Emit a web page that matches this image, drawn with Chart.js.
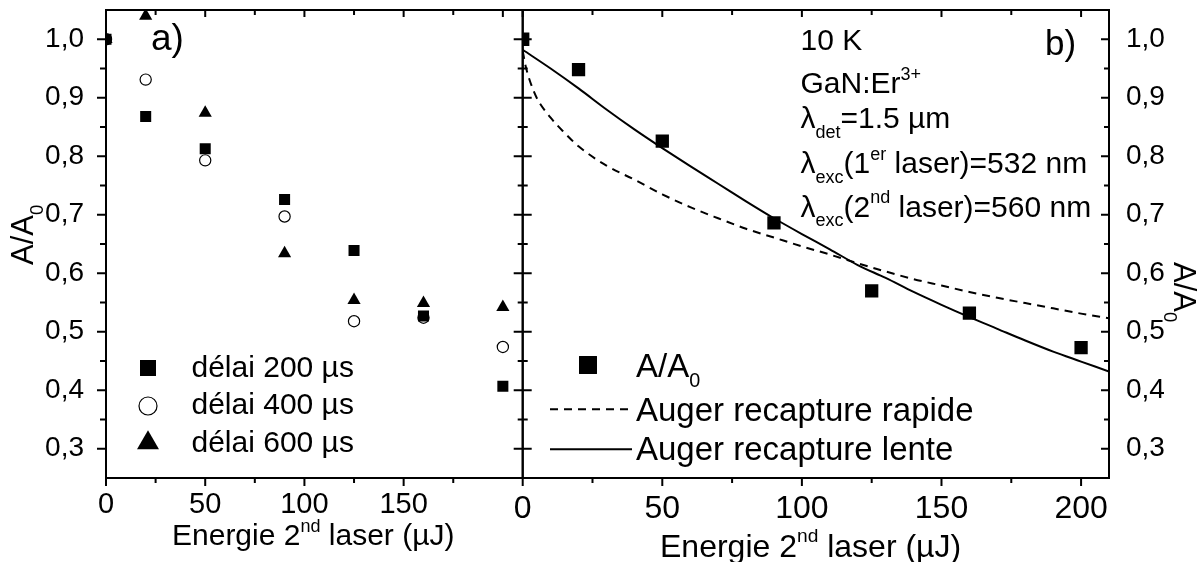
<!DOCTYPE html>
<html><head><meta charset="utf-8">
<script src="https://cdn.jsdelivr.net/npm/chart.js@4/dist/chart.umd.min.js"></script>
<style>
html,body{margin:0;padding:0;background:#fff;}
#wrap{position:relative;width:1203px;height:562px;overflow:hidden;background:#fff;}
#wrap canvas{position:absolute;left:0;top:0;}
</style></head><body>
<div id="wrap"><canvas id="ca" width="1203" height="562"></canvas><canvas id="cb" width="1203" height="562"></canvas></div>
<script>
// ---------- data ----------
const energyA = [0, 20, 50, 90, 125, 160, 200];
const delai200 = [1.0, 0.868, 0.813, 0.726, 0.639, 0.527, 0.407];
const delai400 = [1.0, 0.931, 0.793, 0.697, 0.518, 0.524, 0.474];
const delai600 = [1.0, 1.040, 0.874, 0.634, 0.554, 0.549, 0.542];

const energyB = [0, 20, 50, 90, 125, 160, 200];
const ratioB = [1.0, 0.948, 0.826, 0.686, 0.570, 0.532, 0.473];

const rapideX = [0, 1, 2.5, 5, 10, 15, 20, 30, 40, 50, 60, 70, 80, 90, 100, 110, 120, 130, 140, 150, 160, 170, 180, 190, 200, 210];
const rapideY = [0.980, 0.955, 0.930, 0.900, 0.866, 0.840, 0.817, 0.784, 0.760, 0.735, 0.713, 0.694, 0.676, 0.661, 0.646, 0.632, 0.617, 0.603, 0.590, 0.579, 0.568, 0.558, 0.549, 0.540, 0.531, 0.523];
const lenteX = [0, 10, 20, 30, 40, 50, 60, 70, 80, 90, 100, 110, 120, 130, 140, 150, 160, 170, 180, 190, 200, 210];
const lenteY = [0.982, 0.950, 0.916, 0.880, 0.846, 0.814, 0.783, 0.753, 0.723, 0.694, 0.667, 0.641, 0.614, 0.592, 0.568, 0.546, 0.525, 0.505, 0.485, 0.466, 0.449, 0.432];

const xTicksA = [0, 50, 100, 150];
const xTicksB = [0, 50, 100, 150, 200];
const yTicks = [0.3, 0.4, 0.5, 0.6, 0.7, 0.8, 0.9, 1.0];
const yTickLabels = ['0,3', '0,4', '0,5', '0,6', '0,7', '0,8', '0,9', '1,0'];

// ---------- helpers ----------
const FONT = '"Liberation Sans", Arial, Helvetica, sans-serif';
const f = (s) => s + 'px ' + FONT;

function rich(ctx, segs, x, y, size, rot) {
  ctx.save();
  ctx.translate(x, y);
  if (rot) ctx.rotate(rot);
  ctx.fillStyle = '#000';
  ctx.textBaseline = 'alphabetic';
  ctx.textAlign = 'left';
  let cx = 0;
  for (const s of segs) {
    const small = s.sub || s.sup;
    const fs = small ? size * 0.6 : size;
    ctx.font = f(fs);
    const dy = s.sup ? -size * 0.45 : (s.sub ? size * 0.32 : 0);
    ctx.fillText(s.t, cx, dy);
    cx += ctx.measureText(s.t).width;
  }
  ctx.restore();
}

function marker(ctx, style, x, y, r, fill, stroke, bw) {
  ctx.save();
  ctx.beginPath();
  if (style === 'rect') {
    const h = r * Math.SQRT1_2;
    ctx.rect(x - h, y - h, 2 * h, 2 * h);
  } else if (style === 'circle') {
    ctx.arc(x, y, r, 0, Math.PI * 2);
  } else if (style === 'triangle') {
    ctx.moveTo(x, y - r);
    ctx.lineTo(x + r * Math.sin(2 * Math.PI / 3), y - r * Math.cos(2 * Math.PI / 3));
    ctx.lineTo(x + r * Math.sin(4 * Math.PI / 3), y - r * Math.cos(4 * Math.PI / 3));
    ctx.closePath();
  }
  ctx.fillStyle = fill; ctx.fill();
  if (bw > 0) { ctx.lineWidth = bw; ctx.strokeStyle = stroke; ctx.stroke(); }
  ctx.restore();
}

function mids(arr) { const m = []; for (let i = 0; i < arr.length - 1; i++) m.push((arr[i] + arr[i + 1]) / 2); return m; }

function tickMarks(ctx, scale, values, fromPix, len, horizontal) {
  ctx.beginPath();
  for (const v of values) {
    const p = scale.getPixelForValue(v);
    if (horizontal) { ctx.moveTo(p, fromPix); ctx.lineTo(p, fromPix + len); }
    else { ctx.moveTo(fromPix, p); ctx.lineTo(fromPix + len, p); }
  }
  ctx.stroke();
}

const yMinor = [0.35, 0.45, 0.55, 0.65, 0.75, 0.85, 0.95];

const frameA = {
  id: 'frameA',
  afterDraw(chart) {
    const ctx = chart.ctx, a = chart.chartArea, xs = chart.scales.x, ys = chart.scales.y;
    ctx.save();
    ctx.strokeStyle = '#000'; ctx.lineWidth = 2;
    ctx.strokeRect(a.left, a.top, a.right - a.left, a.bottom - a.top);
    tickMarks(ctx, xs, xTicksA, a.bottom, 8, true);
    tickMarks(ctx, xs, mids(xTicksA).concat([175]), a.bottom, 5, true);
    const topMaj = xTicksA.concat([200]);
    tickMarks(ctx, xs, topMaj, a.top, 7, true);
    tickMarks(ctx, xs, mids(topMaj), a.top, 5, true);
    tickMarks(ctx, ys, yTicks, a.left, -9, false);
    tickMarks(ctx, ys, yMinor, a.left, -6, false);
    ctx.restore();

    rich(ctx, [{t: 'a)'}], 151, 50, 37);
    rich(ctx, [{t: 'A/A'}, {t: '0', sub: true}], 33, 265, 31, -Math.PI / 2);
    rich(ctx, [{t: 'Energie 2'}, {t: 'nd', sup: true}, {t: ' laser (µJ)'}], 172, 545, 30);

    const ds = chart.data.datasets;
    const rows = [[368, 376.7, 11.3], [406, 414, 9], [443, 451.7, 12.7]];
    ds.forEach((d, i) => {
      const r = rows[i];
      marker(ctx, d.pointStyle, 148, r[0], r[2], d.pointBackgroundColor, '#000', d.pointBorderWidth);
      rich(ctx, [{t: d.label}], 191.5, r[1], 30);
    });
  }
};

const frameB = {
  id: 'frameB',
  afterDraw(chart) {
    const ctx = chart.ctx, a = chart.chartArea, xs = chart.scales.x, ys = chart.scales.y;
    ctx.save();
    ctx.strokeStyle = '#000'; ctx.lineWidth = 2;
    ctx.strokeRect(a.left, a.top, a.right - a.left, a.bottom - a.top);
    tickMarks(ctx, xs, xTicksB, a.bottom, 8, true);
    tickMarks(ctx, xs, mids(xTicksB), a.bottom, 5, true);
    tickMarks(ctx, xs, xTicksB, a.top, 7, true);
    tickMarks(ctx, xs, mids(xTicksB), a.top, 5, true);
    tickMarks(ctx, ys, yTicks, a.left - 9, 18, false);
    tickMarks(ctx, ys, yMinor, a.left - 5, 10, false);
    tickMarks(ctx, ys, yTicks, a.right, -8, false);
    tickMarks(ctx, ys, yMinor, a.right, -5, false);
    ctx.restore();

    rich(ctx, [{t: 'b)'}], 1045, 55, 35);
    const ax = 800.5, s = 30;
    rich(ctx, [{t: '10 K'}], ax, 50, s);
    rich(ctx, [{t: 'GaN:Er'}, {t: '3+', sup: true}], ax, 93.3, s);
    rich(ctx, [{t: 'λ'}, {t: 'det', sub: true}, {t: '=1.5 µm'}], ax, 128.3, s);
    rich(ctx, [{t: 'λ'}, {t: 'exc', sub: true}, {t: '(1'}, {t: 'er', sup: true}, {t: ' laser)=532 nm'}], ax, 173.3, s);
    rich(ctx, [{t: 'λ'}, {t: 'exc', sub: true}, {t: '(2'}, {t: 'nd', sup: true}, {t: ' laser)=560 nm'}], ax, 216.7, s);

    rich(ctx, [{t: 'Energie 2'}, {t: 'nd', sup: true}, {t: ' laser (µJ)'}], 660, 556.7, 32);
    rich(ctx, [{t: 'A/A'}, {t: '0', sub: true}], 1174, 262, 31, Math.PI / 2);

    const ds = chart.data.datasets;
    marker(ctx, 'rect', 588, 365, 12.7, '#000', '#000', 0);
    rich(ctx, [{t: 'A/A'}, {t: '0', sub: true}], 636, 376.7, 33);
    ctx.save();
    ctx.strokeStyle = '#000'; ctx.lineWidth = 2;
    ctx.setLineDash(ds[1].borderDash);
    ctx.beginPath(); ctx.moveTo(550, 409.3); ctx.lineTo(632, 409.3); ctx.stroke();
    ctx.setLineDash([]);
    ctx.beginPath(); ctx.moveTo(550, 449.3); ctx.lineTo(632, 449.3); ctx.stroke();
    ctx.restore();
    rich(ctx, [{t: ds[1].label}], 636, 420.7, 33);
    rich(ctx, [{t: ds[2].label}], 636, 460, 33);
  }
};

function pts(xs, ys) { return xs.map((x, i) => ({x: x, y: ys[i]})); }

const commonY = (pos, width, pad) => ({
  type: 'linear', position: pos, min: 0.25, max: 1.05,
  afterFit: (s) => { s.width = width; s.paddingTop = 0; s.paddingBottom = 0; },
  afterBuildTicks: (s) => { s.ticks = yTicks.map(v => ({value: v})); },
  grid: {display: false}, border: {display: false},
  ticks: {color: '#000', font: {family: FONT, size: 28}, padding: pad,
    callback: (v, i) => yTickLabels[i]}
});

const commonX = (ticksArr, size, pad) => ({
  type: 'linear', position: 'bottom', min: 0, max: 210,
  afterFit: (s) => { s.height = 84; s.paddingLeft = 0; s.paddingRight = 0; },
  afterBuildTicks: (s) => { s.ticks = ticksArr.map(v => ({value: v})); },
  grid: {display: false}, border: {display: false},
  ticks: {color: '#000', font: {family: FONT, size: size}, padding: pad, maxRotation: 0, autoSkip: false,
    callback: (v) => String(v)}
});

new Chart(document.getElementById('ca'), {
  type: 'scatter',
  data: {
    datasets: [
      {label: 'délai 200 µs', data: pts(energyA, delai200), pointStyle: 'rect', pointRadius: 7.8,
        pointBackgroundColor: '#000', pointBorderColor: '#000', pointBorderWidth: 0, clip: 0},
      {label: 'délai 400 µs', data: pts(energyA, delai400), pointStyle: 'circle', pointRadius: 5.6,
        pointBackgroundColor: '#fff', pointBorderColor: '#000', pointBorderWidth: 1.2, clip: 0},
      {label: 'délai 600 µs', data: pts(energyA, delai600), pointStyle: 'triangle', pointRadius: 7.6,
        pointBackgroundColor: '#000', pointBorderColor: '#000', pointBorderWidth: 0, clip: 0}
    ]
  },
  options: {
    responsive: false, animation: false, devicePixelRatio: 1,
    layout: {padding: {left: 0, top: 10, right: 1203 - 522.7, bottom: 0}},
    plugins: {legend: {display: false}, tooltip: {enabled: false}},
    scales: {x: commonX(xTicksA, 29, 2), y: commonY('left', 106, 14)}
  },
  plugins: [frameA]
});

new Chart(document.getElementById('cb'), {
  type: 'scatter',
  data: {
    datasets: [
      {label: 'A/A0', data: pts(energyB, ratioB), pointStyle: 'rect', pointRadius: 9.4,
        pointBackgroundColor: '#000', pointBorderColor: '#000', pointBorderWidth: 0, clip: 0, order: 0},
      {label: 'Auger recapture rapide', data: pts(rapideX, rapideY), showLine: true, pointRadius: 0,
        borderColor: '#000', borderWidth: 2, borderDash: [8, 6], cubicInterpolationMode: 'monotone', clip: 0, order: 1},
      {label: 'Auger recapture lente', data: pts(lenteX, lenteY), showLine: true, pointRadius: 0,
        borderColor: '#000', borderWidth: 2, cubicInterpolationMode: 'monotone', clip: 0, order: 2}
    ]
  },
  options: {
    responsive: false, animation: false, devicePixelRatio: 1,
    layout: {padding: {left: 522.7, top: 10, right: 0, bottom: 0}},
    plugins: {legend: {display: false}, tooltip: {enabled: false}},
    scales: {x: commonX(xTicksB, 32, 4), y: commonY('right', 94, 9)}
  },
  plugins: [frameB]
});
</script>
</body></html>
